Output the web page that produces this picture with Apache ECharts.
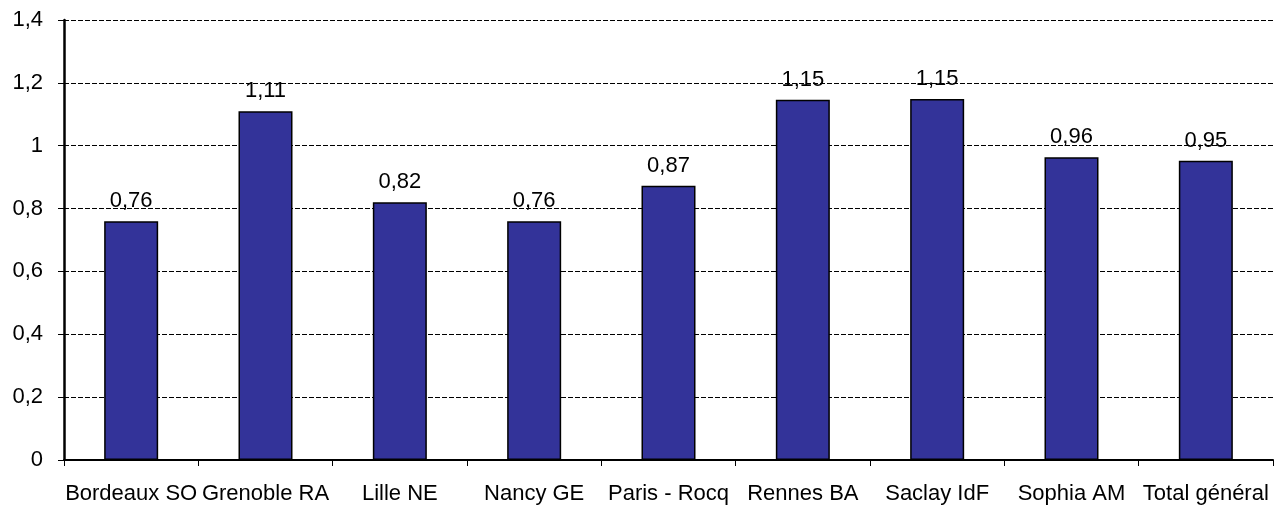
<!DOCTYPE html>
<html>
<head>
<meta charset="utf-8">
<script src="https://cdn.jsdelivr.net/npm/echarts@6/dist/echarts.min.js"></script>
<style>
  html, body { margin: 0; padding: 0; background: #fff; }
  #chart { width: 1276px; height: 506px; }
</style>
</head>
<body>
<div id="chart"></div>
<script>
const categories = ['Bordeaux SO', 'Grenoble RA', 'Lille NE', 'Nancy GE', 'Paris - Rocq', 'Rennes BA', 'Saclay IdF', 'Sophia AM', 'Total général']
const values = [0.76, 1.11, 0.82, 0.76, 0.873, 1.146, 1.149, 0.963, 0.952]

const fr = (v) => String(Math.round(v * 100) / 100).replace('.', ',')

const chart = echarts.init(document.getElementById('chart'))
chart.setOption({
  animation: false,
  backgroundColor: '#fff',
  textStyle: { fontFamily: 'Liberation Sans, Arial, sans-serif' },
  grid: { left: 64, right: 3, top: 20, bottom: 46, containLabel: false },
  xAxis: {
    type: 'category',
    data: categories,
    axisLine: { lineStyle: { color: '#000', width: 2 } },
    axisTick: { show: true, length: 6, lineStyle: { color: '#000', width: 1 } },
    axisLabel: { color: '#000', fontSize: 22, margin: 23, interval: 0 },
  },
  yAxis: {
    type: 'value',
    min: 0,
    max: 1.4,
    interval: 0.2,
    axisLine: { show: true, lineStyle: { color: '#000', width: 2.5 } },
    axisTick: { show: true, length: 6, lineStyle: { color: '#000', width: 1 } },
    axisLabel: { color: '#000', fontSize: 22, margin: 21, formatter: (v) => fr(v) },
    splitLine: { lineStyle: { color: '#000', width: 1, type: [5, 2] } },
  },
  series: [
    {
      type: 'bar',
      data: values,
      barWidth: 54,
      itemStyle: { color: '#333399', borderColor: '#000', borderWidth: 1.5 },
      label: {
        show: true,
        position: 'top',
        distance: 9,
        color: '#000',
        fontSize: 22,
        formatter: (p) => fr(p.value),
      },
    },
  ],
})
</script>
</body>
</html>
